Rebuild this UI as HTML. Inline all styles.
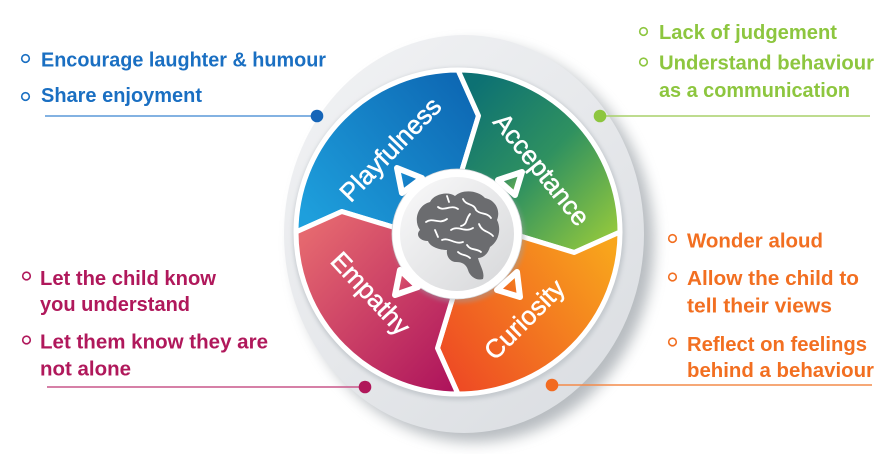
<!DOCTYPE html>
<html>
<head>
<meta charset="utf-8">
<style>
  html,body{margin:0;padding:0;background:#fff;}
  svg{display:block;}
  .t{font-family:"Liberation Sans",Arial,sans-serif;font-weight:bold;font-size:20.5px;}
  .seg{font-family:"Liberation Sans",Arial,sans-serif;font-size:26px;fill:#fff;stroke:#fff;stroke-width:0.5;}
</style>
</head>
<body>
<svg width="896" height="454" viewBox="0 0 896 454" xmlns="http://www.w3.org/2000/svg">
  <defs>
    <filter id="blur8" x="-20%" y="-20%" width="140%" height="140%"><feGaussianBlur stdDeviation="7"/></filter>
    <filter id="blur2" x="-20%" y="-20%" width="140%" height="140%"><feGaussianBlur stdDeviation="2"/></filter>
    <linearGradient id="ringG" gradientUnits="userSpaceOnUse" x1="300" y1="60" x2="620" y2="420">
      <stop offset="0" stop-color="#f1f2f4"/>
      <stop offset="0.5" stop-color="#e6e8eb"/>
      <stop offset="1" stop-color="#dadde1"/>
    </linearGradient>
    <linearGradient id="blueG" gradientUnits="userSpaceOnUse" x1="310" y1="220" x2="470" y2="80">
      <stop offset="0" stop-color="#1e9fdc"/>
      <stop offset="1" stop-color="#0d66b2"/>
    </linearGradient>
    <linearGradient id="greenG" gradientUnits="userSpaceOnUse" x1="470" y1="90" x2="620" y2="230">
      <stop offset="0" stop-color="#0d7173"/>
      <stop offset="0.5" stop-color="#2f9160"/>
      <stop offset="1" stop-color="#93c83d"/>
    </linearGradient>
    <linearGradient id="orangeG" gradientUnits="userSpaceOnUse" x1="450" y1="375" x2="615" y2="250">
      <stop offset="0" stop-color="#ee4b24"/>
      <stop offset="1" stop-color="#f8a61c"/>
    </linearGradient>
    <linearGradient id="pinkG" gradientUnits="userSpaceOnUse" x1="300" y1="240" x2="455" y2="385">
      <stop offset="0" stop-color="#e5686f"/>
      <stop offset="1" stop-color="#ae145c"/>
    </linearGradient>
    <linearGradient id="hubG" gradientUnits="userSpaceOnUse" x1="410" y1="185" x2="505" y2="285">
      <stop offset="0" stop-color="#f7f7f8"/>
      <stop offset="1" stop-color="#d8d9db"/>
    </linearGradient>
    <linearGradient id="triB" x1="0" y1="0" x2="1" y2="1"><stop offset="0" stop-color="#1a8fd3"/><stop offset="1" stop-color="#0f6fbb"/></linearGradient>
    <linearGradient id="triG" x1="0" y1="0" x2="1" y2="1"><stop offset="0" stop-color="#1a7c70"/><stop offset="1" stop-color="#7bbd45"/></linearGradient>
    <linearGradient id="triP" x1="0" y1="0" x2="1" y2="1"><stop offset="0" stop-color="#e2606f"/><stop offset="1" stop-color="#c02a62"/></linearGradient>
    <linearGradient id="triO" x1="0" y1="1" x2="1" y2="0"><stop offset="0" stop-color="#ef5a22"/><stop offset="1" stop-color="#f38a1d"/></linearGradient>
  </defs>

  <rect width="896" height="454" fill="#ffffff"/>

  <!-- outer ring with shadow -->
  <ellipse cx="474" cy="243" rx="180" ry="199" fill="#7d858d" opacity="0.55" filter="url(#blur8)"/>
  <ellipse cx="464" cy="234" rx="180" ry="199" fill="url(#ringG)"/>
  <circle cx="459" cy="234" r="166" fill="#c4c9ce" filter="url(#blur2)"/>
  <circle cx="458" cy="232" r="164" fill="#ffffff"/>

  <!-- segments -->
  <g stroke="#ffffff" stroke-width="5" stroke-linejoin="round">
    <path fill="url(#blueG)" d="M458,232 L403,230.1 L341.8,211.5 L296,232 A162,162 0 0 1 458,70 L478.5,115.8 L459.9,177 Z"/>
    <path fill="url(#greenG)" d="M458,232 L459.9,177 L478.5,115.8 L458,70 A162,162 0 0 1 620,232 L574.2,252.5 L513,233.9 Z"/>
    <path fill="url(#orangeG)" d="M458,232 L513,233.9 L574.2,252.5 L620,232 A162,162 0 0 1 458,394 L437.5,348.2 L456.1,287 Z"/>
    <path fill="url(#pinkG)" d="M458,232 L456.1,287 L437.5,348.2 L458,394 A162,162 0 0 1 296,232 L341.8,211.5 L403,230.1 Z"/>
  </g>

  <!-- segment labels -->
  <text class="seg" text-anchor="middle" transform="translate(391,150) rotate(-46)" x="0" y="8">Playfulness</text>
  <text class="seg" text-anchor="middle" transform="translate(541,170) rotate(51)" x="0" y="8">Acceptance</text>
  <text class="seg" text-anchor="middle" transform="translate(370,294) rotate(47)" x="0" y="8">Empathy</text>
  <text class="seg" text-anchor="middle" transform="translate(525,320) rotate(-45)" x="0" y="8">Curiosity</text>

  <!-- hub -->
  <circle cx="459" cy="237" r="66" fill="#9aa0a6" opacity="0.45" filter="url(#blur2)"/>
  <circle cx="457" cy="234" r="65" fill="#ffffff" stroke="#d6d9dc" stroke-width="0.8"/>
  <g stroke="#ffffff" stroke-width="6" stroke-linejoin="round">
    <polygon points="397,168 422,178 402,193" fill="url(#triB)"/>
    <polygon points="522,172 498,180 515,195" fill="url(#triG)"/>
    <polygon points="395,295 400,270 418,287" fill="url(#triP)"/>
    <polygon points="520,297 517,272 497,290" fill="url(#triO)"/>
  </g>
  <circle cx="457" cy="234" r="57" fill="url(#hubG)"/>

  <!-- brain -->
  <path fill="#6b6c6f" d="M420,230 C413,220 418,205 430,202 C434,194 448,191 455,196 C462,189 478,190 485,198 C495,200 501,210 497,220 C502,230 498,242 490,247 C488,254 483,258 478,258 C480,266 485,272 483,279 C477,281 470,277 468,270 C466,264 462,262 456,262 C450,262 446,256 447,250 C440,250 430,247 428,241 C420,241 415,235 420,230 Z"/>
  <g fill="none" stroke="#ffffff" stroke-width="1.8" stroke-linecap="round">
    <path d="M426,222 C433,217 439,225 447,219"/>
    <path d="M438,207 C444,212 451,204 458,209"/>
    <path d="M463,199 C466,206 474,203 476,210 C480,215 487,212 491,218"/>
    <path d="M451,230 C458,225 465,233 473,228"/>
    <path d="M479,224 C482,232 489,231 493,236"/>
    <path d="M442,240 C449,237 455,245 463,242"/>
    <path d="M467,245 C471,251 476,248 481,252"/>
    <path d="M435,230 L438,237"/>
    <path d="M470,214 C465,220 468,224 461,226"/>
    <path d="M447,196 L449,202"/>
    <path d="M458,252 C462,256 466,254 470,258"/>
  </g>

  <!-- connectors -->
  <line x1="45" y1="116" x2="317" y2="116" stroke="#5a98d8" stroke-width="1.5"/>
  <circle cx="317" cy="116" r="6.3" fill="#1565b8"/>
  <line x1="600" y1="116" x2="870" y2="116" stroke="#a8d16a" stroke-width="1.5"/>
  <circle cx="600" cy="116" r="6.3" fill="#8dc63f"/>
  <line x1="47" y1="387" x2="365" y2="387" stroke="#c9578a" stroke-width="1.5"/>
  <circle cx="365" cy="387" r="6.3" fill="#b0175a"/>
  <line x1="552" y1="385" x2="872" y2="385" stroke="#f48b4a" stroke-width="1.5"/>
  <circle cx="552" cy="385" r="6.3" fill="#f26b21"/>

  <!-- blue list -->
  <g fill="none" stroke="#1a6fc2" stroke-width="1.6">
    <circle cx="25.5" cy="58.5" r="3.8"/>
    <circle cx="25.5" cy="96.5" r="3.8"/>
  </g>
  <g class="t" fill="#1a6fc2">
    <text x="41" y="66.5" textLength="285" lengthAdjust="spacingAndGlyphs">Encourage laughter &amp; humour</text>
    <text x="41" y="102" textLength="161" lengthAdjust="spacingAndGlyphs">Share enjoyment</text>
  </g>

  <!-- green list -->
  <g fill="none" stroke="#8dc63f" stroke-width="1.6">
    <circle cx="643.5" cy="31.5" r="3.8"/>
    <circle cx="643.5" cy="62" r="3.8"/>
  </g>
  <g class="t" fill="#8dc63f">
    <text x="659" y="39" textLength="178" lengthAdjust="spacingAndGlyphs">Lack of judgement</text>
    <text x="659" y="69.5" textLength="215" lengthAdjust="spacingAndGlyphs">Understand behaviour</text>
    <text x="659" y="97" textLength="191" lengthAdjust="spacingAndGlyphs">as a communication</text>
  </g>

  <!-- pink list -->
  <g fill="none" stroke="#b0185b" stroke-width="1.6">
    <circle cx="26.5" cy="276" r="3.8"/>
    <circle cx="26.5" cy="340" r="3.8"/>
  </g>
  <g class="t" fill="#b0185b">
    <text x="40" y="285" textLength="176" lengthAdjust="spacingAndGlyphs">Let the child know</text>
    <text x="40" y="311" textLength="150" lengthAdjust="spacingAndGlyphs">you understand</text>
    <text x="40" y="348.5" textLength="228" lengthAdjust="spacingAndGlyphs">Let them know they are</text>
    <text x="40" y="375.5" textLength="91" lengthAdjust="spacingAndGlyphs">not alone</text>
  </g>

  <!-- orange list -->
  <g fill="none" stroke="#f26f21" stroke-width="1.6">
    <circle cx="672.5" cy="238.5" r="3.8"/>
    <circle cx="672.5" cy="277" r="3.8"/>
    <circle cx="672.5" cy="342" r="3.8"/>
  </g>
  <g class="t" fill="#f26f21">
    <text x="687" y="247.5" textLength="136" lengthAdjust="spacingAndGlyphs">Wonder aloud</text>
    <text x="687" y="285" textLength="172" lengthAdjust="spacingAndGlyphs">Allow the child to</text>
    <text x="687" y="312.5" textLength="145" lengthAdjust="spacingAndGlyphs">tell their views</text>
    <text x="687" y="351" textLength="180" lengthAdjust="spacingAndGlyphs">Reflect on feelings</text>
    <text x="687" y="377" textLength="187" lengthAdjust="spacingAndGlyphs">behind a behaviour</text>
  </g>
</svg>
</body>
</html>
